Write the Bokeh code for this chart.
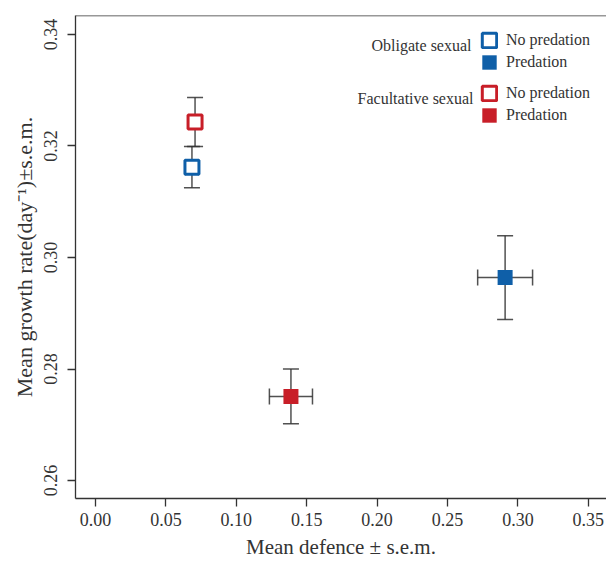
from bokeh.plotting import figure
from bokeh.models import (ColumnDataSource, Whisker, TeeHead, Legend, LegendItem, Label,
                          Span, SingleIntervalTicker, NumeralTickFormatter, Range1d)
from bokeh.embed import file_html
from bokeh.resources import INLINE

# ---- data ----
groups = ["Obligate sexual", "Obligate sexual", "Facultative sexual", "Facultative sexual"]
treatments = ["No predation", "Predation", "No predation", "Predation"]
mean_defence = [0.0685, 0.2909, 0.0707, 0.1388]
defence_sem = [0.0046, 0.0195, 0.0039, 0.0153]
mean_growth = [0.3162, 0.2964, 0.3243, 0.2751]
growth_sem = [0.0037, 0.0075, 0.0044, 0.0049]
x_ticks_interval = 0.05
y_ticks_interval = 0.02

BLUE = "#0f5fa8"
RED = "#c81e28"
INK = "#333333"
FONT = "Liberation Serif"

colors = {"Obligate sexual": BLUE, "Facultative sexual": RED}

X_START, X_END = -0.0142, 0.3629
Y_START, Y_END = 0.25679, 0.34339

p = figure(width=606, height=561, output_backend="svg", toolbar_location=None,
           x_range=Range1d(X_START, X_END), y_range=Range1d(Y_START, Y_END),
           min_border_left=75, min_border_right=0, min_border_top=15, min_border_bottom=61)
p.outline_line_color = None
p.xgrid.visible = False
p.ygrid.visible = False
p.background_fill_color = "white"

def subset(g, t):
    idx = [i for i in range(len(groups)) if groups[i] == g and treatments[i] == t]
    return ColumnDataSource(dict(
        x=[mean_defence[i] for i in idx],
        y=[mean_growth[i] for i in idx],
    ))

all_src = ColumnDataSource(dict(
    x=mean_defence, y=mean_growth,
    xlo=[m - s for m, s in zip(mean_defence, defence_sem)],
    xhi=[m + s for m, s in zip(mean_defence, defence_sem)],
    ylo=[m - s for m, s in zip(mean_growth, growth_sem)],
    yhi=[m + s for m, s in zip(mean_growth, growth_sem)],
))

# markers
for g in ["Obligate sexual", "Facultative sexual"]:
    c = colors[g]
    p.scatter("x", "y", source=subset(g, "No predation"), marker="square", size=14,
              fill_color="white", line_color=c, line_width=3)
    p.scatter("x", "y", source=subset(g, "Predation"), marker="square", size=15,
              fill_color=c, line_color=None)

# error bars
def head():
    return TeeHead(size=16, line_color=INK, line_width=1.5, line_alpha=0.85)

p.add_layout(Whisker(base="x", lower="ylo", upper="yhi", dimension="height", source=all_src,
                     line_color=INK, line_width=1.5, line_alpha=0.85,
                     upper_head=head(), lower_head=head()))
p.add_layout(Whisker(base="y", lower="xlo", upper="xhi", dimension="width", source=all_src,
                     line_color=INK, line_width=1.5, line_alpha=0.85,
                     upper_head=head(), lower_head=head()))

# top frame line
p.add_layout(Span(location=Y_END, dimension="width", line_color=INK, line_width=1.3))

# axes
for ax in (p.xaxis[0], p.yaxis[0]):
    ax.axis_line_color = INK
    ax.axis_line_width = 1.3
    ax.major_tick_line_color = INK
    ax.major_tick_line_width = 1.3
    ax.major_tick_out = 8
    ax.major_tick_in = 0
    ax.minor_tick_line_color = None
    ax.major_label_text_font = FONT
    ax.major_label_text_font_size = "18px"
    ax.major_label_text_color = INK
    ax.axis_label_text_font = FONT
    ax.axis_label_text_font_style = "normal"
    ax.axis_label_text_color = INK

p.xaxis.axis_label_text_font_size = "21px"
p.yaxis.axis_label_text_font_size = "22px"
p.xaxis.ticker = SingleIntervalTicker(interval=x_ticks_interval)
p.yaxis.ticker = SingleIntervalTicker(interval=y_ticks_interval)
p.xaxis.formatter = NumeralTickFormatter(format="0.00")
p.yaxis.formatter = NumeralTickFormatter(format="0.00")
p.xaxis.axis_label = "Mean defence ± s.e.m."
p.yaxis.axis_label = "Mean growth rate(day⁻¹)±s.e.m."
p.xaxis.major_label_standoff = 6
p.xaxis.axis_label_standoff = 6
p.yaxis.major_label_standoff = 10
p.yaxis.axis_label_standoff = 5
p.yaxis.major_label_orientation = "vertical"

# legend (two groups); swatch renderers hold no visible data
nan = float("nan")

def legend_for(g, loc):
    c = colors[g]
    r_open = p.rect(x=[nan], y=[nan], width=1, height=1, fill_color="white",
                    line_color=c, line_width=3)
    r_fill = p.rect(x=[nan], y=[nan], width=1, height=1, fill_color=c, line_color=None)
    lg = Legend(items=[LegendItem(label="No predation", renderers=[r_open]),
                       LegendItem(label="Predation", renderers=[r_fill])],
                location=loc, orientation="vertical",
                border_line_color=None, background_fill_alpha=0,
                padding=0, margin=0, spacing=4,
                glyph_width=18, glyph_height=18, label_height=18,
                label_standoff=8,
                label_text_font=FONT, label_text_font_size="16px", label_text_color=INK)
    p.add_layout(lg, "center")

legend_for("Obligate sexual", (405, 427))
legend_for("Facultative sexual", (405, 374))

p.add_layout(Label(x=396, y=453, x_units="screen", y_units="screen", text="Obligate sexual",
                   text_align="right", text_baseline="middle", text_font=FONT,
                   text_font_size="16px", text_color=INK))
p.add_layout(Label(x=398, y=400, x_units="screen", y_units="screen", text="Facultative sexual",
                   text_align="right", text_baseline="middle", text_font=FONT,
                   text_font_size="16px", text_color=INK))

open("out.html", "w").write(file_html(p, INLINE))
